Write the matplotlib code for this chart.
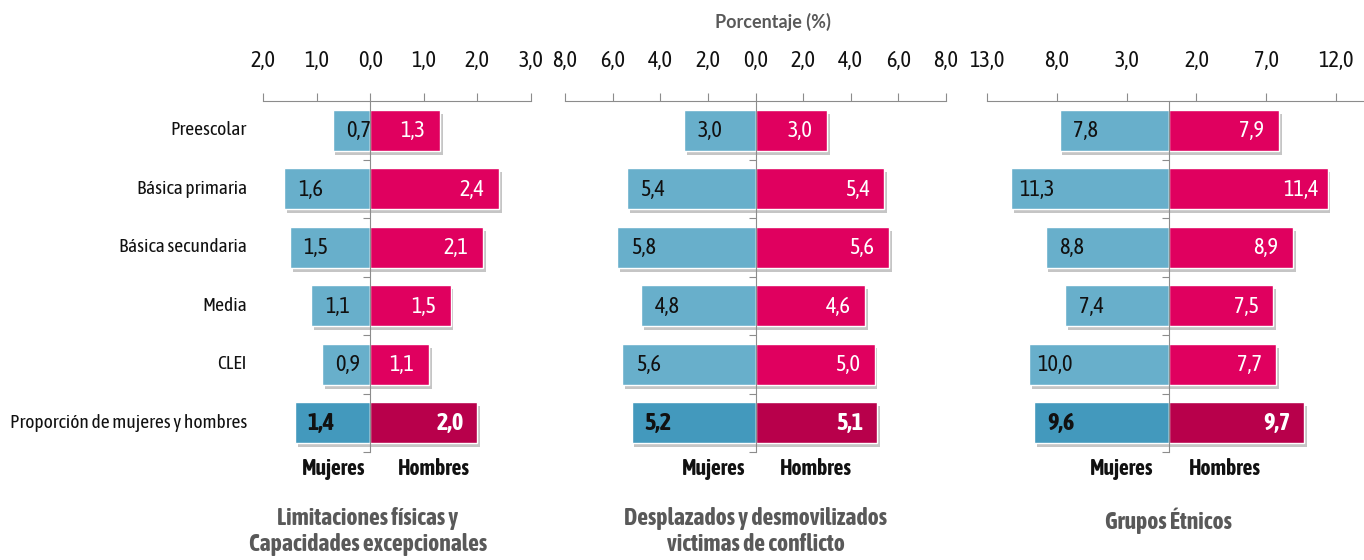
import os
import matplotlib
matplotlib.use("Agg")
import matplotlib.pyplot as plt
import matplotlib.patheffects as pe
from matplotlib import font_manager as fm
from matplotlib.ticker import FuncFormatter, FixedLocator
from matplotlib.transforms import blended_transform_factory

# --------------------------------------------------
#  Fuentes estrechas (tipo Calibri) si están instaladas
# --------------------------------------------------
def buscar_fuente(claves, evitar=("italic",)):
    for f in fm.fontManager.ttflist:
        nombre = f.fname.lower()
        if all(c in nombre for c in claves) and not any(e in nombre for e in evitar):
            return f.fname
    return None

def peso_num(w):
    if isinstance(w, (int, float)):
        return w
    return fm.weight_dict.get(str(w).lower(), 400)

ruta_reg = buscar_fuente(["condensed", "regular"])
ruta_bold = None
if ruta_reg:
    for cand in (ruta_reg.replace("Regular", "Bold"), ruta_reg.replace("regular", "bold")):
        if cand != ruta_reg and os.path.exists(cand):
            ruta_bold = cand
            break
if ruta_bold is None:
    cond = [f for f in fm.fontManager.ttflist
            if "condensed" in f.fname.lower() and "italic" not in f.fname.lower()]
    if cond:
        ruta_bold = min(cond, key=lambda e: abs(peso_num(e.weight) - 700)).fname

f_reg = fm.FontProperties(fname=ruta_reg) if ruta_reg else fm.FontProperties(family="DejaVu Sans")
f_bold = (fm.FontProperties(fname=ruta_bold) if ruta_bold
          else fm.FontProperties(family="DejaVu Sans", weight="bold"))
f_titulo = fm.FontProperties(family=["Lato", "DejaVu Sans"], weight="bold")

def fp(base, size):
    p = base.copy()
    p.set_size(size)
    return p

# --------------------------------------------------
#  Datos
# --------------------------------------------------
categorias = ["Preescolar", "Básica primaria", "Básica secundaria", "Media", "CLEI",
              "Proporción de mujeres y hombres"]

titulos = ["Limitaciones físicas y\nCapacidades excepcionales",
           "Desplazados y desmovilizados\nvictimas de conflicto",
           "Grupos Étnicos"]

mujeres = [
    [0.7, 1.6, 1.5, 1.1, 0.9, 1.4],
    [3.0, 5.4, 5.8, 4.8, 5.6, 5.2],
    [7.8, 11.3, 8.8, 7.4, 10.0, 9.6],
]
hombres = [
    [1.3, 2.4, 2.1, 1.5, 1.1, 2.0],
    [3.0, 5.4, 5.6, 4.6, 5.0, 5.1],
    [7.9, 11.4, 8.9, 7.5, 7.7, 9.7],
]

ticks_x = [
    [-2, -1, 0, 1, 2, 3],
    [-8, -6, -4, -2, 0, 2, 4, 6, 8],
    [-13, -8, -3, 2, 7, 12],
]
limites_x = [(-2, 3), (-8, 8), (-13, 14)]

# posiciones de los paneles en píxeles (izq, der)
W, H = 1364, 560
paneles_px = [(263, 531), (565, 946), (987, 1364)]

C_MUJ = "#68AFCB"
C_HOM = "#E0005F"
C_MUJ_T = "#4399BD"
C_HOM_T = "#B8004B"
GRIS = "#595959"
NEGRO = "#111111"

fig = plt.figure(figsize=(W / 100, H / 100), dpi=100)

sombra = [pe.SimplePatchShadow(offset=(2, -3), shadow_rgbFace="#7f7f7f", alpha=0.45),
          pe.Normal()]

fmt = FuncFormatter(lambda v, p: f"{abs(v):.1f}".replace(".", ","))

y_top, y_bot = 101, 452
n = len(categorias)
y = list(range(n))
for k in range(3):
    x0, x1 = paneles_px[k]
    ax = fig.add_axes([x0 / W, 1 - y_bot / H, (x1 - x0) / W, (y_bot - y_top) / H])
    col_m = [C_MUJ] * (n - 1) + [C_MUJ_T]
    col_h = [C_HOM] * (n - 1) + [C_HOM_T]

    bm = ax.barh(y, [-v for v in mujeres[k]], height=0.7, color=col_m,
                 edgecolor="white", linewidth=1, zorder=2)
    bh = ax.barh(y, hombres[k], height=0.7, color=col_h,
                 edgecolor="white", linewidth=1, zorder=2)
    for b in list(bm) + list(bh):
        b.set_path_effects(sombra)

    for i in range(n):
        base, tam = (f_bold, 17.5) if i == n - 1 else (f_reg, 16)
        ax.annotate(f"{mujeres[k][i]:.1f}".replace(".", ","), (-mujeres[k][i], i),
                    xytext=(26, -1), textcoords="offset pixels", ha="center", va="center",
                    fontproperties=fp(base, tam), color=NEGRO, zorder=4)
        ax.annotate(f"{hombres[k][i]:.1f}".replace(".", ","), (hombres[k][i], i),
                    xytext=(-27, -1), textcoords="offset pixels", ha="center", va="center",
                    fontproperties=fp(base, tam), color="white", zorder=4)

    ax.set_xlim(*limites_x[k])
    ax.set_ylim(n - 0.5, -0.5)

    # eje superior
    for s in ["right", "bottom"]:
        ax.spines[s].set_visible(False)
    ax.spines["top"].set_color("#8c8c8c")
    ax.spines["left"].set_position(("data", 0))
    ax.spines["left"].set_color("#8c8c8c")
    ax.xaxis.tick_top()
    ax.xaxis.set_major_locator(FixedLocator(ticks_x[k]))
    ax.xaxis.set_major_formatter(fmt)
    ax.tick_params(axis="x", direction="out", length=6, color="#8c8c8c",
                   pad=15, labelcolor=NEGRO)
    for t in ax.get_xticklabels():
        t.set_fontproperties(fp(f_reg, 16))
    ax.yaxis.set_major_locator(FixedLocator([i + 0.5 for i in range(n)]))
    ax.yaxis.set_major_formatter(FuncFormatter(lambda v, p: ""))
    ax.tick_params(axis="y", direction="out", length=5, color="#8c8c8c")
    ax.set_facecolor("none")

    # Mujeres / Hombres bajo el eje
    tr = blended_transform_factory(ax.transData, fig.transFigure)
    ax.annotate("Mujeres", (0, 1 - 469 / H), xycoords=tr, xytext=(-37 - 5 * k, 0),
                textcoords="offset pixels", ha="center", va="center",
                fontproperties=fp(f_bold, 15.5), color=NEGRO, annotation_clip=False)
    ax.annotate("Hombres", (0, 1 - 469 / H), xycoords=tr, xytext=(64 - 4 * k, 0),
                textcoords="offset pixels", ha="center", va="center",
                fontproperties=fp(f_bold, 15.5), color=NEGRO, annotation_clip=False)

    if k == 0:
        tr_lab = blended_transform_factory(ax.transAxes, ax.transData)
        for i, c in enumerate(categorias):
            ax.text(-0.06, i, c, transform=tr_lab, ha="right", va="center",
                    fontproperties=fp(f_reg, 14), color=NEGRO)

# títulos de panel
centros = [368, 756, 1168]
for k in range(3):
    fig.text(centros[k] / W, 1 - 507 / H, titulos[k], ha="center", va="top",
             fontproperties=fp(f_bold, 17), color=GRIS, linespacing=1.15)

fig.text(773 / W, 1 - 22 / H, "Porcentaje (%)", ha="center", va="center",
         fontproperties=fp(f_titulo, 13), color=GRIS)

fig.savefig("out.png", dpi=100)
